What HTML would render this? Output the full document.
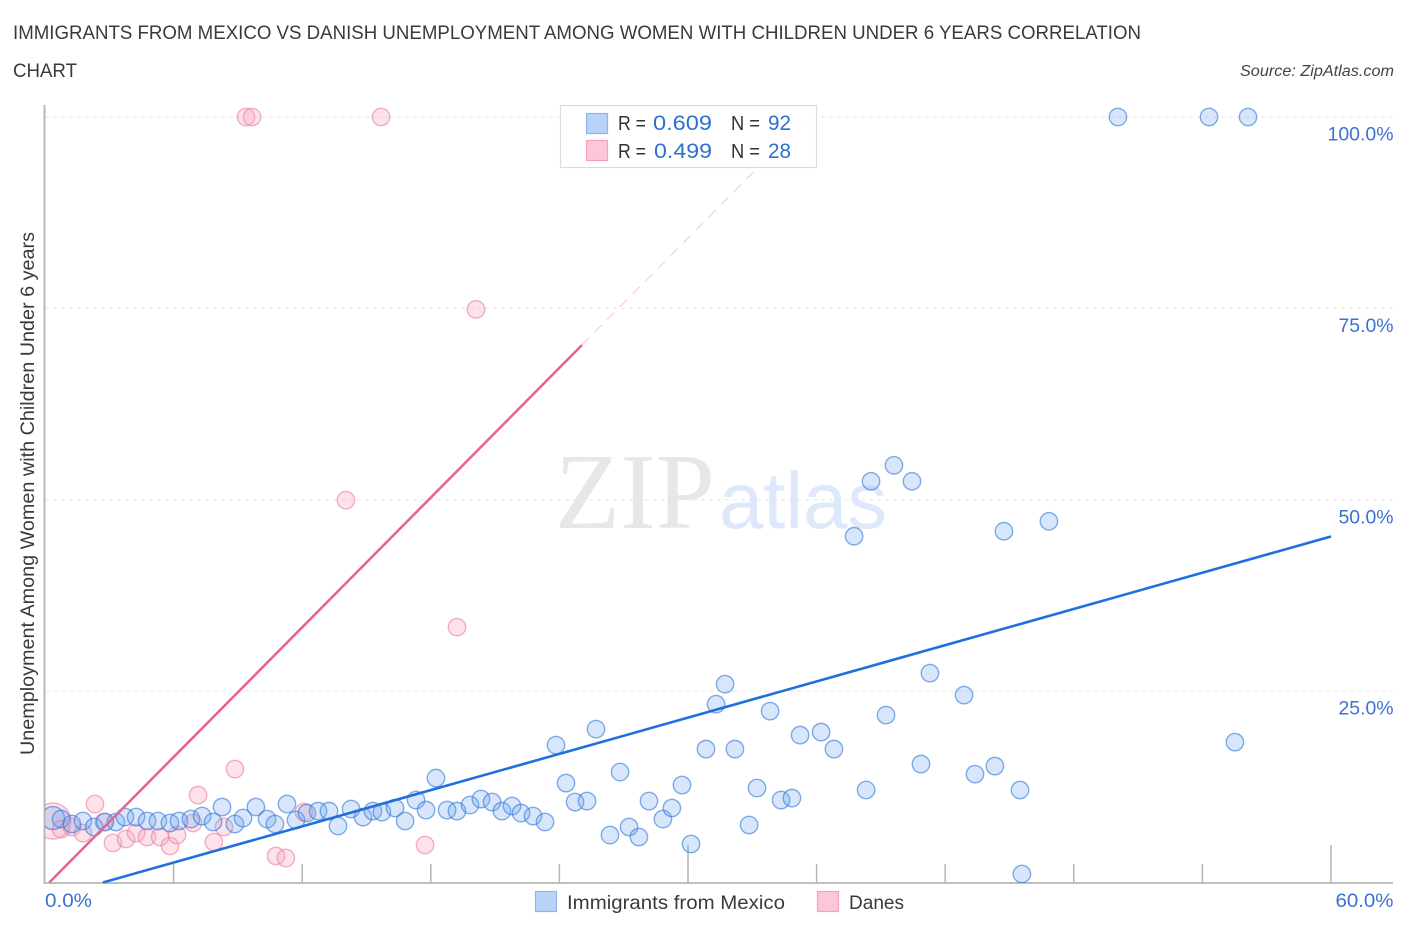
<!DOCTYPE html>
<html lang="en">
<head>
<meta charset="utf-8">
<title>Immigrants from Mexico vs Danish Unemployment Correlation Chart</title>
<style>
html,body{margin:0;padding:0;background:#fff;width:1406px;height:930px;overflow:hidden}
svg{display:block;font-family:"Liberation Sans",sans-serif}
</style>
</head>
<body>
<svg id="chart" xmlns="http://www.w3.org/2000/svg" width="1406" height="930" viewBox="0 0 1406 930">
  <defs><clipPath id="plot-clip"><rect x="45" y="90" width="1361" height="793"/></clipPath></defs>
  <text x="13" y="39" font-size="19" fill="#3a3a3a" textLength="1128" lengthAdjust="spacingAndGlyphs">IMMIGRANTS FROM MEXICO VS DANISH UNEMPLOYMENT AMONG WOMEN WITH CHILDREN UNDER 6 YEARS CORRELATION</text>
  <text x="13" y="77" font-size="19" fill="#3a3a3a" textLength="64" lengthAdjust="spacingAndGlyphs">CHART</text>
  <text x="1394" y="76" font-size="15.5" font-style="italic" fill="#444" text-anchor="end" textLength="154" lengthAdjust="spacingAndGlyphs">Source: ZipAtlas.com</text>
  <text x="555" y="528" font-family="'Liberation Serif',serif" font-size="108" fill="#e7e7e7" textLength="160" lengthAdjust="spacingAndGlyphs">ZIP</text>
  <text x="719" y="528" font-size="80" fill="#dde9fa" textLength="168" lengthAdjust="spacingAndGlyphs">atlas</text>
  <g id="grid"></g>
  <g id="axes"></g>
  <g id="points" clip-path="url(#plot-clip)"></g>
  <g id="trends"></g>
  <text transform="translate(34,493.5) rotate(-90)" font-size="19" fill="#3a3a3a" text-anchor="middle" textLength="523" lengthAdjust="spacingAndGlyphs">Unemployment Among Women with Children Under 6 years</text>
  <g>
    <rect x="560.5" y="105.5" width="256" height="62" fill="#fff" fill-opacity="0.88" stroke="#dcdcdc" stroke-width="1.2"/>
    <rect x="586.5" y="113.5" width="21" height="20" fill="#b8d3f7" stroke="#8fb6ea" stroke-width="1.2"/>
    <rect x="586.5" y="140.5" width="21" height="20" fill="#fcc8d8" stroke="#f2a3bc" stroke-width="1.2"/>
    <text x="618" y="130" font-size="20" fill="#333" textLength="28" lengthAdjust="spacingAndGlyphs">R =</text>
    <text x="653" y="130" font-size="21" fill="#2f6fd0" textLength="59" lengthAdjust="spacingAndGlyphs">0.609</text>
    <text x="731" y="130" font-size="20" fill="#333" textLength="29" lengthAdjust="spacingAndGlyphs">N =</text>
    <text x="768" y="130" font-size="21" fill="#2f6fd0" textLength="23" lengthAdjust="spacingAndGlyphs">92</text>
    <text x="618" y="158" font-size="20" fill="#333" textLength="28" lengthAdjust="spacingAndGlyphs">R =</text>
    <text x="654" y="158" font-size="21" fill="#2f6fd0" textLength="58" lengthAdjust="spacingAndGlyphs">0.499</text>
    <text x="731" y="158" font-size="20" fill="#333" textLength="29" lengthAdjust="spacingAndGlyphs">N =</text>
    <text x="768" y="158" font-size="21" fill="#2f6fd0" textLength="23" lengthAdjust="spacingAndGlyphs">28</text>
  </g>
  <g>
    <rect x="535.5" y="891.5" width="21" height="20" fill="#b8d3f7" stroke="#8fb6ea" stroke-width="1.2"/>
    <text x="567" y="909" font-size="19.5" fill="#3a3a3a" textLength="218" lengthAdjust="spacingAndGlyphs">Immigrants from Mexico</text>
    <rect x="817.5" y="891.5" width="21" height="20" fill="#fcc8d8" stroke="#f2a3bc" stroke-width="1.2"/>
    <text x="849" y="909" font-size="19.5" fill="#3a3a3a" textLength="55" lengthAdjust="spacingAndGlyphs">Danes</text>
  </g>
</svg>
<script>
const mexicoX = [0.37,0.75,1.26,1.77,2.29,2.80,3.31,3.73,4.25,4.76,5.27,5.83,6.25,6.81,7.33,7.84,8.26,8.86,9.24,9.84,10.36,10.73,11.29,11.71,12.22,12.74,13.25,13.67,14.28,14.84,15.30,15.72,16.33,16.80,17.31,17.78,18.24,18.76,19.22,19.83,20.34,20.86,21.32,21.79,22.21,22.77,23.33,23.84,24.31,24.73,25.29,25.71,26.36,26.83,27.25,27.71,28.18,28.83,29.25,29.72,30.14,30.84,31.31,31.73,32.19,32.85,33.22,33.83,34.34,34.85,35.23,36.21,36.81,37.75,38.31,38.54,39.24,39.61,40.45,40.87,41.29,42.88,43.39,44.32,44.74,45.49,45.58,46.84,50.06,54.31,55.52,56.13];
const mexicoY = [8.42,8.29,7.64,8.03,7.25,7.90,7.90,8.55,8.55,8.03,8.03,7.77,8.03,8.29,8.68,7.90,9.86,7.64,8.42,9.86,8.29,7.64,10.25,8.16,9.07,9.33,9.33,7.38,9.60,8.55,9.33,9.20,9.73,8.03,10.77,9.46,13.64,9.46,9.33,10.12,10.90,10.51,9.33,9.99,9.07,8.68,7.90,17.95,12.99,10.51,10.64,20.04,6.20,14.43,7.25,5.94,10.64,8.29,9.73,12.73,5.03,17.43,23.30,25.91,17.43,7.51,12.34,22.39,10.77,11.03,19.26,19.65,17.43,45.24,12.08,52.42,21.87,54.50,52.42,15.47,27.35,24.48,14.16,15.21,45.89,12.08,1.11,47.19,100,100,18.34,100];
const danesX = [0.37,0.75,1.26,1.77,2.33,2.75,3.17,3.78,4.25,4.76,5.37,5.83,6.16,6.91,7.14,7.88,8.35,8.86,9.38,9.66,10.78,11.24,12.08,14.04,15.68,17.73,19.22,20.11];
const danesY = [8.03,6.98,7.25,6.46,10.25,7.90,5.16,5.68,6.46,5.94,5.94,4.77,6.20,7.77,11.42,5.29,7.25,14.82,100,100,3.46,3.20,9.20,49.94,100,4.90,33.36,74.87];
const mexicoLargeIndex = 0;
const danesLargeIndex = 0;
const mexicoTrendX = [2.7, 60];
const mexicoTrendY = [0, 45.2];
const danesTrendX = [0.2, 25.05];
const danesTrendY = [0, 70.2];
const danesProjectionX = [25.05, 35.6];
const danesProjectionY = [70.2, 100];
const xTickValues = [6, 12, 18, 24, 30, 36, 42, 48, 54, 60];
const xTallTicks = [30, 60];
const xTickLabelValues = [0, 60];
const xTickLabels = ['0.0%', '60.0%'];
const yTickValues = [25, 50, 75, 100];
const yTickLabels = ['25.0%', '50.0%', '75.0%', '100.0%'];

const NS = 'http://www.w3.org/2000/svg';
const xScale = v => 45 + v * 21.433;
const yScale = v => 882.5 - v * 7.655;
function make(tag, parent, props) {
  const el = document.createElementNS(NS, tag);
  for (const k in props) el.setAttribute(k, props[k]);
  parent.appendChild(el);
  return el;
}
const grid = document.getElementById('grid');
const axes = document.getElementById('axes');
const pointsG = document.getElementById('points');
const trends = document.getElementById('trends');

yTickValues.forEach((v, i) => {
  const line = make('line', grid, {x1: 45, x2: 1393, y1: yScale(v), y2: yScale(v), stroke: '#e6e6e6', 'stroke-width': 1, 'stroke-dasharray': '4 4'});
  
  
  const label = make('text', axes, {x: 1393.5, y: yScale(v) + 23.5, 'font-size': 19.5, fill: '#3b71d3', 'text-anchor': 'end', textLength: yTickLabels[i].length > 5 ? 66 : 55, lengthAdjust: 'spacingAndGlyphs'});
  
  
  label.textContent = yTickLabels[i];
});

const yAxisLine = make('line', axes, {x1: 44.5, x2: 44.5, y1: 105, y2: 884, stroke: '#b8b8b8', 'stroke-width': 2});


const xAxisLine = make('line', axes, {x1: 44, x2: 1393, y1: 883, y2: 883, stroke: '#c0c0c0', 'stroke-width': 2});



xTickValues.forEach(v => {
  const tall = xTallTicks.includes(v);
  const tick = make('line', axes, {x1: xScale(v), x2: xScale(v), y1: tall ? 845 : 864, y2: 883, stroke: '#b5b5b5', 'stroke-width': 1.5});
  
  
});
xTickLabelValues.forEach((v, i) => {
  const first = i === 0;
  const label = make('text', axes, {x: first ? xScale(v) : 1393.5, y: 907, 'font-size': 19.5, fill: '#3b71d3', 'text-anchor': first ? 'start' : 'end', textLength: first ? 47 : 58, lengthAdjust: 'spacingAndGlyphs'});
  
  
  label.textContent = xTickLabels[i];
});

danesX.forEach((v, i) => {
  const c = make('circle', pointsG, {cx: xScale(v), cy: yScale(danesY[i]), r: i === danesLargeIndex ? 18 : 8.7, fill: 'rgba(250,165,190,0.32)', stroke: 'rgba(236,125,160,0.6)', 'stroke-width': 1.4});
  
  
});
mexicoX.forEach((v, i) => {
  const c = make('circle', pointsG, {cx: xScale(v), cy: yScale(mexicoY[i]), r: i === mexicoLargeIndex ? 11.5 : 8.7, fill: 'rgba(110,165,240,0.28)', stroke: 'rgba(50,120,215,0.6)', 'stroke-width': 1.4});
  
  
});

const danesProjection = make('line', trends, {x1: xScale(danesProjectionX[0]), y1: yScale(danesProjectionY[0]), x2: xScale(danesProjectionX[1]), y2: yScale(danesProjectionY[1]), stroke: 'rgba(232,110,150,0.4)', 'stroke-width': 1, 'stroke-dasharray': '10 8'});


const danesTrend = make('line', trends, {x1: xScale(danesTrendX[0]), y1: yScale(danesTrendY[0]), x2: xScale(danesTrendX[1]), y2: yScale(danesTrendY[1]), stroke: '#e8648f', 'stroke-width': 2.6});


const mexicoTrend = make('line', trends, {x1: xScale(mexicoTrendX[0]), y1: yScale(mexicoTrendY[0]), x2: xScale(mexicoTrendX[1]), y2: yScale(mexicoTrendY[1]), stroke: '#1f6fdc', 'stroke-width': 2.6});


</script>
</body>
</html>
